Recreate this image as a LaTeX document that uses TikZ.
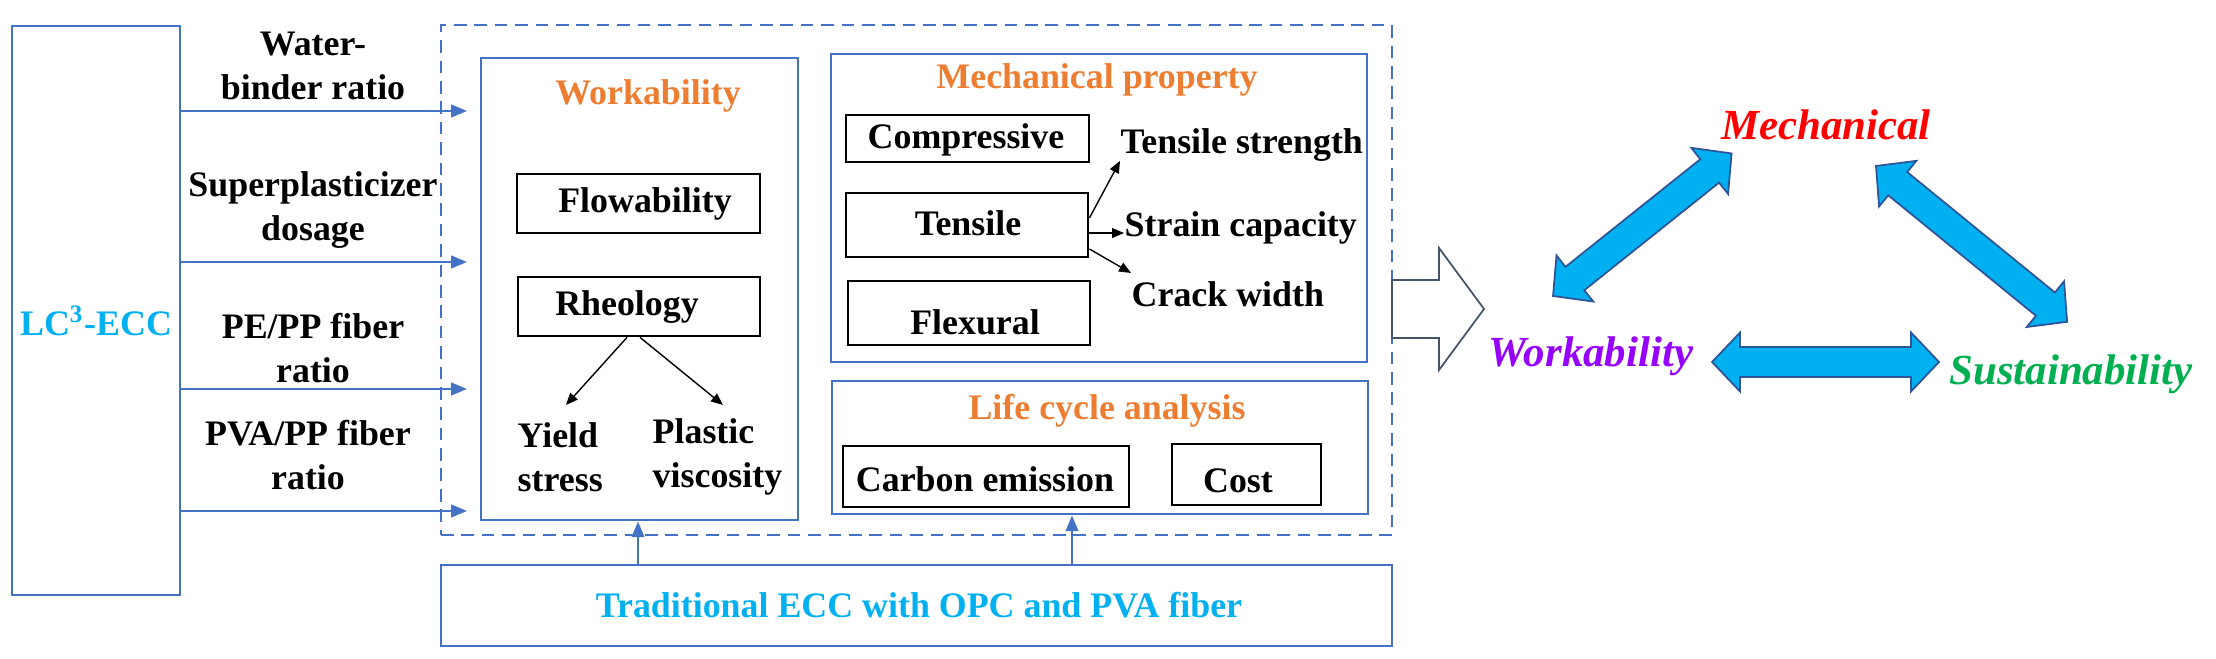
\documentclass[tikz,border=0pt]{standalone}
\usepackage{fontspec}
\setmainfont{Liberation Serif}
\newfontfamily\tnr{Liberation Serif}
\usetikzlibrary{arrows.meta,fit,calc}
\definecolor{lblue}{RGB}{68,114,196}
\definecolor{orng}{RGB}{237,125,49}
\definecolor{cyanT}{RGB}{0,176,240}
\definecolor{redT}{RGB}{255,0,0}
\definecolor{purpT}{RGB}{150,0,255}
\definecolor{greenT}{RGB}{0,176,80}
\definecolor{arrowline}{RGB}{47,85,151}
\definecolor{hollowline}{RGB}{68,84,106}
% double arrows: local frame along x from 0 to L
\newcommand{\dblarr}[1]{%
  \draw[dblarrow] (0,0) -- (28,-29.5) -- (28,-15) -- (#1-28,-15) -- (#1-28,-29.5) -- (#1,0)
   -- (#1-28,29.5) -- (#1-28,15) -- (28,15) -- (28,29.5) -- cycle;}
\begin{document}
\begin{tikzpicture}[x=0.01cm,y=-0.01cm,
  bluebox/.style={draw=lblue,line width=0.8pt,inner sep=0pt},
  blackbox/.style={draw=black,line width=0.8pt,inner sep=0pt},
  dashbox/.style={draw=lblue,line width=0.7pt,dash pattern=on 3.6pt off 2.2pt,inner sep=0pt},
  lbl/.style={font=\tnr\fontsize{10.2}{12.6}\selectfont\bfseries,align=center,inner sep=0pt},
  ttl/.style={lbl,text=orng},
  barrow/.style={draw=lblue,line width=0.6pt,-{Triangle[length=4.5pt,width=3.6pt]}},
  karrow/.style={draw=black,line width=0.4pt,-{Triangle[length=3.4pt,width=2.8pt]}},
  tri/.style={font=\tnr\fontsize{12.2}{14}\selectfont\bfseries\itshape,inner sep=0pt},
  dblarrow/.style={fill=cyanT,draw=arrowline,line width=0.5pt,line join=miter},
]
\useasboundingbox (0,0) rectangle (2216,659);

% ---------- left box ----------
\node[bluebox,fit={(12,26) (180,595)}] (lc3) {};
\node[lbl,text=cyanT] (lc3t) at (96,321) {LC\textsuperscript{3}-ECC};

% ---------- dashed frame ----------
\node[dashbox,fit={(441,25) (1392,535)}] (frame) {};

% ---------- workability ----------
\node[bluebox,fit={(481,58) (798,520)}] (work) {};
\node[ttl] (workt) at (648,96) {Workability};
\node[blackbox,fit={(517,174) (760,233)}] (flow) {};
\node[lbl] (flowt) at (645,204) {Flowability};
\node[blackbox,fit={(518,277) (760,336)}] (rheo) {};
\node[lbl] (rheot) at (627,307) {Rheology};
\node[lbl,align=left,anchor=west] (yield) at (517,457) {Yield\\stress};
\node[lbl,align=left,anchor=west] (plast) at (652,457) {Plastic\\viscosity};
\coordinate (ytip) at (566,405);
\coordinate (ptip) at (723,405);
\draw[karrow] (rheo.south -| 627,0) -- (ytip);
\draw[karrow] (rheo.south -| 640,0) -- (ptip);

% ---------- input labels and arrows ----------
\node[lbl] (wb) at (313,66) {Water-\\binder ratio};
\node[lbl] (sp) at (313,210) {Superplasticizer\\dosage};
\node[lbl] (pe) at (313,348) {PE/PP fiber\\ratio};
\node[lbl] (pva) at (308,455) {PVA/PP fiber\\ratio};
\foreach \yy in {111,262,389,511}{
  \draw[barrow,shorten >=6\pgflinewidth] (lc3.east |- 0,\yy) -- (work.west |- 0,\yy);
}

% ---------- mechanical property ----------
\node[bluebox,fit={(831,54) (1367,362)}] (mech) {};
\node[ttl] (mecht) at (1097,80) {Mechanical property};
\node[blackbox,fit={(846,115) (1089,162)}] (comp) {};
\node[lbl] (compt) at (966,140) {Compressive};
\node[blackbox,fit={(846,193) (1088,257)}] (tens) {};
\node[lbl] (tenst) at (968,223) {Tensile};
\node[blackbox,fit={(848,281) (1090,345)}] (flex) {};
\node[lbl] (flext) at (975,322) {Flexural};
\node[lbl,anchor=west] (ts) at (1120,145) {Tensile strength};
\node[lbl,anchor=west] (sc) at (1124,228) {Strain capacity};
\node[lbl,anchor=west] (cw) at (1131,294) {Crack width};
\draw[karrow] (tens.east |- 0,218) -- (ts.west |- 0,161);
\draw[karrow] (tens.east |- 0,233) -- (sc.west |- 0,233);
\draw[karrow] (tens.east |- 0,249) -- (cw.west |- 0,273);

% ---------- life cycle analysis ----------
\node[bluebox,fit={(832,381) (1368,514)}] (lca) {};
\node[ttl] (lcat) at (1107,411) {Life cycle analysis};
\node[blackbox,fit={(843,446) (1129,507)}] (carb) {};
\node[lbl] (carbt) at (985,479) {Carbon emission};
\node[blackbox,fit={(1172,444) (1321,505)}] (cost) {};
\node[lbl] (costt) at (1238,481) {Cost};

% ---------- traditional ECC ----------
\node[bluebox,fit={(441,565) (1392,646)}] (trad) {};
\node[lbl,text=cyanT] (tradt) at (919,605) {Traditional ECC with OPC and PVA fiber};
\draw[barrow] (trad.north -| 638,0) -- (work.south -| 638,0);
\draw[barrow] (trad.north -| 1072,0) -- (lca.south -| 1072,0);

% ---------- hollow arrow ----------
\draw[draw=hollowline,line width=0.5pt,fill=white,line join=miter]
  (1392,280) -- (1439,280) -- (1439,248) -- (1484,309) -- (1439,370) -- (1439,338) -- (1392,338) -- cycle;

% ---------- triangle ----------
\node[tri,text=redT] (tm) at (1826,125) {Mechanical};
\node[tri,text=purpT] (tw) at (1591,356) {Workability};
\node[tri,text=greenT] (tsu) at (2071,374) {Sustainability};

\begin{scope}[shift={(1553,296)},rotate=38.6]
  \dblarr{228.5}
\end{scope}
\begin{scope}[shift={(1876,166)},rotate=-39.2]
  \dblarr{246.6}
\end{scope}
\begin{scope}[shift={(1712,362)}]
  \dblarr{227}
\end{scope}
\end{tikzpicture}
\end{document}
